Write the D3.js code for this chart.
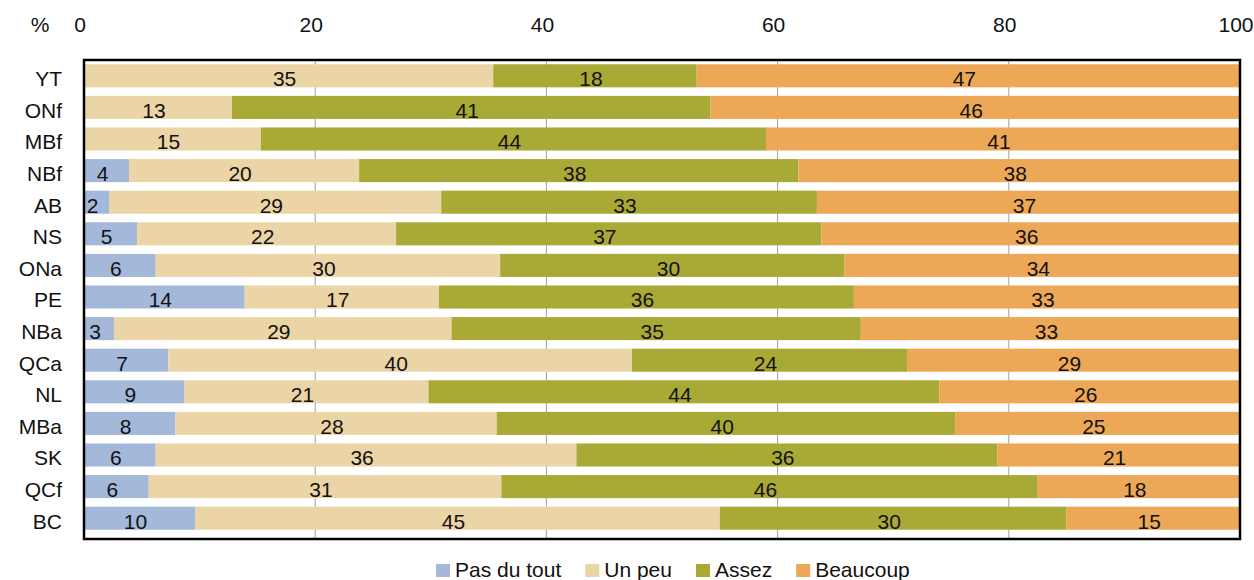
<!DOCTYPE html>
<html>
<head>
<meta charset="utf-8">
<script src="https://cdn.jsdelivr.net/npm/d3@7"></script>
<style>
  html, body { margin: 0; padding: 0; background: #fff; }
  svg { display: block; }
  text { font-family: "Liberation Sans", Arial, sans-serif; fill: #111; }
</style>
</head>
<body>
<svg id="chart" width="1254" height="580"></svg>
<script>
// ---- data ----
const categories = ["YT","ONf","MBf","NBf","AB","NS","ONa","PE","NBa","QCa","NL","MBa","SK","QCf","BC"];
const seriesNames = ["Pas du tout","Un peu","Assez","Beaucoup"];
const pasDuTout = [0, 0, 0, 3.9, 2.2, 4.6, 6.2, 13.9, 2.6, 7.3, 8.7, 7.9, 6.2, 5.6, 9.6];
const unPeu     = [35.4, 12.8, 15.3, 19.9, 28.7, 22.4, 29.8, 16.8, 29.2, 40.1, 21.1, 27.8, 36.4, 30.5, 45.4];
const assez     = [17.6, 41.4, 43.7, 38.0, 32.5, 36.8, 29.8, 35.9, 35.4, 23.8, 44.2, 39.7, 36.4, 46.4, 30.0];
const beaucoup  = [47.0, 45.8, 41.0, 38.2, 36.6, 36.2, 34.2, 33.4, 32.8, 28.8, 26.0, 24.6, 21.0, 17.5, 15.0];
const xTicks = [0, 20, 40, 60, 80, 100];
const axisUnit = "%";
const colors = ["#A4B9DA", "#EBD4A5", "#A9A936", "#EDA857"];

(function () {
// ---- build ----
const seriesValues = [pasDuTout, unPeu, assez, beaucoup];
const rows = categories.map((c, i) => {
  const r = { cat: c };
  seriesNames.forEach((s, k) => r[s] = seriesValues[k][i]);
  return r;
});
const stacked = d3.stack().keys(seriesNames)(rows);

const svg = d3.select("#chart");
const pLeft = 84, pRight = 1240, pTop = 60, pBottom = 539;
const x = d3.scaleLinear().domain([0, 100]).range([pLeft, pRight]);
const y = d3.scaleBand().domain(categories).range([60, 534]).paddingInner(0.27).paddingOuter(0.135);
const color = d3.scaleOrdinal().domain(seriesNames).range(colors);
const fs = 21;

// gridlines
svg.append("g").selectAll("line")
  .data(xTicks.filter(t => t > 0 && t < 100))
  .join("line")
  .attr("x1", d => x(d)).attr("x2", d => x(d))
  .attr("y1", pTop).attr("y2", pBottom)
  .attr("stroke", "#A0A0A0").attr("stroke-width", 1);

// bars
const layers = svg.append("g").selectAll("g")
  .data(stacked).join("g")
  .attr("fill", d => color(d.key));
layers.selectAll("rect")
  .data(d => d)
  .join("rect")
  .attr("x", d => x(d[0]))
  .attr("y", d => y(d.data.cat))
  .attr("width", d => Math.max(0, x(d[1]) - x(d[0])))
  .attr("height", y.bandwidth());

// value labels
const lab = svg.append("g");
stacked.forEach(layer => {
  layer.forEach(d => {
    const v = d[1] - d[0];
    if (v <= 0) return;
    lab.append("text")
      .attr("x", (x(d[0]) + x(d[1])) / 2 - 4)
      .attr("y", y(d.data.cat) + y.bandwidth() / 2 + 10.3)
      .attr("text-anchor", "middle")
      .attr("font-size", fs)
      .text(Math.round(d.data[layer.key]));
  });
});

// category labels
svg.append("g").selectAll("text")
  .data(categories).join("text")
  .attr("x", 62)
  .attr("y", d => y(d) + y.bandwidth() / 2 + 10.3)
  .attr("text-anchor", "end")
  .attr("font-size", fs)
  .text(d => d);

// top axis labels
svg.append("g").selectAll("text")
  .data(xTicks).join("text")
  .attr("x", d => x(d) - 4)
  .attr("y", 32)
  .attr("text-anchor", "middle")
  .attr("font-size", fs)
  .text(d => d);
svg.append("text")
  .attr("x", 40).attr("y", 32)
  .attr("text-anchor", "middle")
  .attr("font-size", fs)
  .text(axisUnit);

// frame
svg.append("rect")
  .attr("x", pLeft).attr("y", pTop)
  .attr("width", pRight - pLeft).attr("height", pBottom - pTop)
  .attr("fill", "none").attr("stroke", "#000").attr("stroke-width", 2.5);

// legend
const legend = svg.append("g");
let lx = 436;
seriesNames.forEach((s, k) => {
  legend.append("rect")
    .attr("x", lx).attr("y", 564)
    .attr("width", 14).attr("height", 13)
    .attr("fill", colors[k]);
  const t = legend.append("text")
    .attr("x", lx + 19).attr("y", 577)
    .attr("font-size", fs)
    .text(s);
  lx += 19 + t.node().getComputedTextLength() + 24;
});
})();
</script>
</body>
</html>
